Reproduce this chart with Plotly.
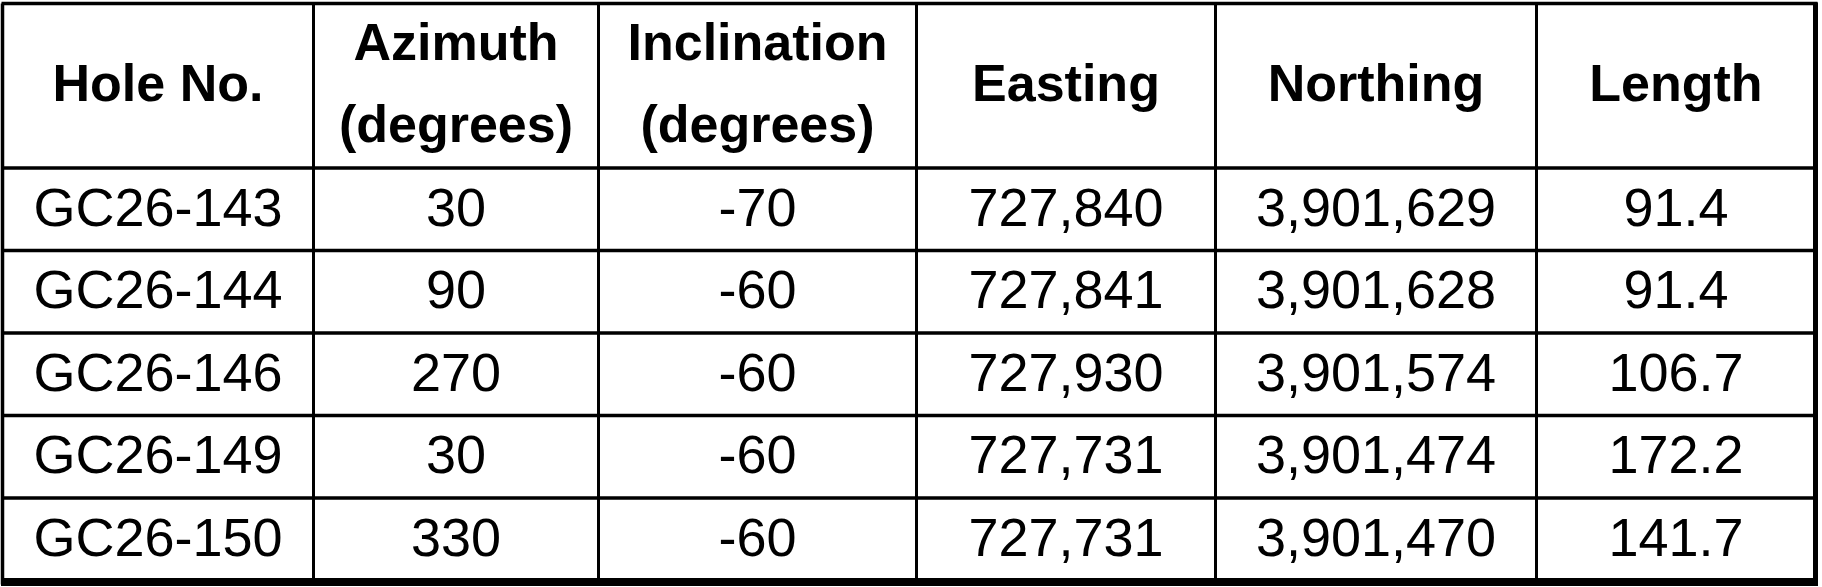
import numpy as np
import plotly.graph_objects as go

# table content
headers = ["Hole No.", "Azimuth<br>(degrees)", "Inclination<br>(degrees)",
           "Easting", "Northing", "Length"]
hole_no = ["GC26-143", "GC26-144", "GC26-146", "GC26-149", "GC26-150"]
azimuth = [30, 90, 270, 30, 330]
inclination = [-70, -60, -60, -60, -60]
easting = [727840, 727841, 727930, 727731, 727731]
northing = [3901629, 3901628, 3901574, 3901474, 3901470]
length = [91.4, 91.4, 106.7, 172.2, 141.7]

# layout of the grid (pixels)
W, H = 1822, 587
x0, y0 = 2.5, 3.5
col_widths = [311, 285, 318, 299, 321, 279]
header_h = 164.5
row_h = 82.5
header_gap = 82  # baseline-to-baseline distance of two-line headers

col_edges = x0 + np.concatenate([[0], np.cumsum(col_widths)])
col_mid = (col_edges[:-1] + col_edges[1:]) / 2
n_rows = len(hole_no)
row_edges = y0 + header_h + row_h * np.arange(n_rows + 1)
row_edges = np.concatenate([[y0], row_edges])
row_mid = (row_edges[1:-1] + row_edges[2:]) / 2
header_mid = (row_edges[0] + row_edges[1]) / 2 + 2

columns = [
    hole_no,
    [str(v) for v in azimuth],
    [str(v) for v in inclination],
    [f"{v:,}" for v in easting],
    [f"{v:,}" for v in northing],
    [f"{v:.1f}" for v in length],
]

fig = go.Figure()

# header text, two-line headers get their own line spacing
hx, hy, ht = [], [], []
for ci, h in enumerate(headers):
    lines = h.split("<br>")
    offs = (np.arange(len(lines)) - (len(lines) - 1) / 2) * header_gap
    for line, off in zip(lines, offs):
        hx.append(col_mid[ci])
        hy.append(header_mid + off)
        ht.append(line)

fig.add_trace(go.Scatter(
    x=hx, y=hy, text=ht,
    mode="text",
    textposition="middle center",
    textfont=dict(family="Liberation Sans, Arial, sans-serif",
                  size=52, color="black", weight="bold"),
    hoverinfo="skip",
))

# body text
xs, ys, txt = [], [], []
for ci, col in enumerate(columns):
    for ri, val in enumerate(col):
        xs.append(col_mid[ci])
        ys.append(row_mid[ri] + 3)
        txt.append(val)

fig.add_trace(go.Scatter(
    x=xs, y=ys, text=txt,
    mode="text",
    textposition="middle center",
    textfont=dict(family="Liberation Sans, Arial, sans-serif", size=54, color="black"),
    hoverinfo="skip",
))

# grid lines
shapes = []
for xe in col_edges[1:-1]:
    shapes.append(dict(type="line", x0=xe, x1=xe, y0=row_edges[0], y1=row_edges[-1],
                       xref="x", yref="y", line=dict(color="black", width=3)))
for ye in row_edges[1:-1]:
    shapes.append(dict(type="line", x0=col_edges[0], x1=col_edges[-1], y0=ye, y1=ye,
                       xref="x", yref="y", line=dict(color="black", width=3.5)))

# outer border, thicker on the right and bottom
shapes += [
    dict(type="line", x0=col_edges[0] - 1, x1=col_edges[-1] + 2, y0=row_edges[0], y1=row_edges[0],
         xref="x", yref="y", line=dict(color="black", width=3.5)),
    dict(type="line", x0=col_edges[0], x1=col_edges[0], y0=row_edges[0], y1=row_edges[-1] + 4,
         xref="x", yref="y", line=dict(color="black", width=3.5)),
    dict(type="line", x0=col_edges[-1], x1=col_edges[-1], y0=row_edges[0] - 1, y1=row_edges[-1] + 4,
         xref="x", yref="y", line=dict(color="black", width=5)),
    dict(type="line", x0=col_edges[0] - 1.5, x1=col_edges[-1] + 2.5, y0=row_edges[-1] + 1.5,
         y1=row_edges[-1] + 1.5, xref="x", yref="y", line=dict(color="black", width=8)),
]

fig.update_layout(
    width=W, height=H,
    autosize=False,
    margin=dict(l=0, r=0, t=0, b=0),
    paper_bgcolor="white",
    plot_bgcolor="white",
    showlegend=False,
    shapes=shapes,
)
fig.update_xaxes(range=[0, W], visible=False, fixedrange=True)
fig.update_yaxes(range=[H, 0], visible=False, fixedrange=True)

# drop the default 8px page margin so the figure sits at the window's corner
fig.write_html("out.html", config={"displayModeBar": False},
               post_script="document.body.style.margin='0';")
